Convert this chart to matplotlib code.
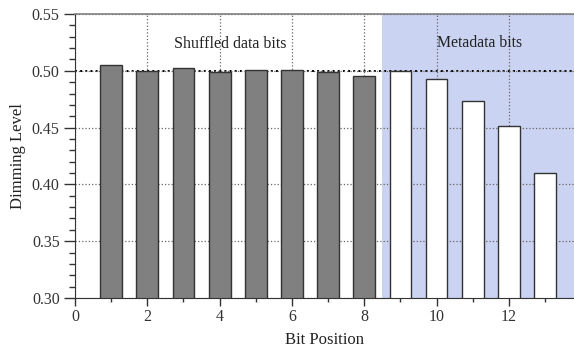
import numpy as np
import matplotlib
matplotlib.use('Agg')
import matplotlib.pyplot as plt
from matplotlib.ticker import MultipleLocator

# bit positions and measured dimming levels
data_pos = [1, 2, 3, 4, 5, 6, 7, 8]
data_vals = [0.5055, 0.4998, 0.5025, 0.4990, 0.5007, 0.5005, 0.4987, 0.4958]
meta_pos = [9, 10, 11, 12, 13]
meta_vals = [0.4998, 0.4925, 0.4734, 0.4514, 0.4104]

plt.rcParams['font.family'] = ['Liberation Serif', 'DejaVu Serif']

fig = plt.figure(figsize=(5.74, 3.5), dpi=100)
ax = fig.add_axes([0.1307, 0.1486, 0.8693, 0.8114])

ax.axvspan(8.5, 14, color='#cbd3f3', zorder=0, lw=0)
ax.grid(True, which='major', linestyle=':', color='#666666', linewidth=0.9, zorder=1)
ax.axhline(0.5, color='black', linestyle=':', linewidth=1.4, zorder=1.5)

ax.bar(data_pos, data_vals, width=0.6, color='#808080', edgecolor='#333333',
       linewidth=1.0, zorder=2)
ax.bar(meta_pos, meta_vals, width=0.6, color='white', edgecolor='#333333',
       linewidth=1.0, zorder=2)

ax.text(4.3, 0.5236, 'Shuffled data bits', ha='center', va='center', fontsize=11.5, color='#222222')
ax.text(11.2, 0.5248, 'Metadata bits', ha='center', va='center', fontsize=11.3, color='#222222')

ax.set_xlim(0, 13.8)
ax.set_ylim(0.30, 0.55)
ax.xaxis.set_major_locator(MultipleLocator(2))
ax.xaxis.set_minor_locator(MultipleLocator(1))
ax.yaxis.set_major_locator(MultipleLocator(0.05))
ax.yaxis.set_minor_locator(MultipleLocator(0.01))
ax.yaxis.set_major_formatter(plt.FormatStrFormatter('%.2f'))
ax.tick_params(axis='y', which='major', length=8, width=1, color='#333333', labelsize=11.5, labelcolor='#333333', pad=3)
ax.tick_params(axis='y', which='minor', length=4, width=1, color='#333333')
ax.tick_params(axis='x', which='major', length=6, width=1, color='#333333', labelsize=11.5, labelcolor='#333333', pad=2)
ax.tick_params(axis='x', which='minor', length=3, width=1, color='#333333')

ax.spines['top'].set_color('#808080')
ax.spines['top'].set_linewidth(1.2)
ax.spines['left'].set_color('#333333')
ax.spines['bottom'].set_color('#333333')
ax.spines['right'].set_visible(False)

ax.set_xlabel('Bit Position', fontsize=12, color='#222222', labelpad=5)
ax.set_ylabel('Dimming Level', fontsize=12, color='#222222', labelpad=4)

fig.savefig('out.png', dpi=100)
